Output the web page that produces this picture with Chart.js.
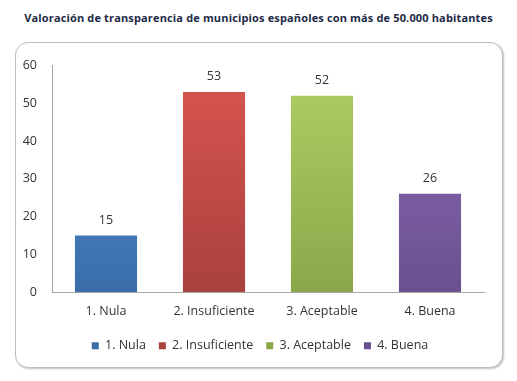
<!DOCTYPE html>
<html>
<head>
<meta charset="utf-8">
<script src="https://cdn.jsdelivr.net/npm/chart.js@4"></script>
<style>
  body { margin: 0; background: #fff; }
  #title {
    position: absolute; left: 0; top: 10px; width: 517px; text-align: center;
    font: bold 11px "Open Sans", sans-serif; color: #1e2a46; letter-spacing: 0.15px;
  }
  #box {
    position: absolute; left: 15px; top: 42px; width: 486px; height: 324px;
    border: 1px solid #bdbdbd; border-radius: 13px;
    box-shadow: 1px 1px 2px rgba(0,0,0,0.25); background: #fff;
  }
  #wrap { position: absolute; left: 0; top: 0; width: 486px; height: 324px; }
</style>
</head>
<body>
<div id="title">Valoración de transparencia de municipios españoles con más de 50.000 habitantes</div>
<div id="box"><div id="wrap"><canvas id="transChart"></canvas></div></div>
<script>
var ctx = document.getElementById('transChart').getContext('2d');

var categories = ['1. Nula', '2. Insuficiente', '3. Aceptable', '4. Buena']
var values = [15, 53, 52, 26]
var yTicks = [0, 10, 20, 30, 40, 50, 60]
var topColors = ['#4c93d8', '#db5550', '#b0d064', '#8e6db9']
var bottomColors = ['#3a6ea9', '#a9413d', '#8aa84a', '#6a508f']

function barGradient(i) {
    return function(c) {
        var area = c.chart.chartArea
        if (!area) return topColors[i]
        var g = c.chart.ctx.createLinearGradient(0, area.top, 0, area.bottom)
        g.addColorStop(0, topColors[i])
        g.addColorStop(1, bottomColors[i])
        return g
    }
}

// one dataset per category so the legend shows each one
var datasets = []
for (i = 0; i < categories.length; i++) {
    var d = categories.map(function() { return null })
    d[i] = values[i]
    datasets.push({
        label: categories[i],
        data: d,
        backgroundColor: barGradient(i),
        grouped: false,
        barPercentage: 0.575,
        categoryPercentage: 1
    })
}

var valueLabels = {
    id: 'valueLabels',
    afterDatasetsDraw: function(chart) {
        var c = chart.ctx
        c.save()
        c.font = '12.5px "Open Sans", sans-serif'
        c.fillStyle = '#333'
        c.textAlign = 'center'
        c.textBaseline = 'middle'
        chart.data.datasets.forEach(function(ds, di) {
            chart.getDatasetMeta(di).data.forEach(function(bar, idx) {
                if (ds.data[idx] == null) return
                c.fillText(ds.data[idx], bar.x, bar.y - 15)
            })
        })
        c.restore()
    }
}

// nudge the legend a bit right, like the original
var legendShift = {
    id: 'legendShift',
    afterLayout: function(chart) {
        chart.legend.left += 20
    }
}

Chart.defaults.font.family = '"Open Sans", sans-serif'
Chart.defaults.font.size = 12.5
Chart.defaults.color = '#333'

var chart = new Chart(ctx, {
    type: 'bar',
    data: { labels: categories, datasets: datasets },
    options: {
        responsive: true,
        maintainAspectRatio: false,
        animation: false,
        layout: { padding: { left: 0, right: 18, top: 7.5, bottom: 5 } },
        scales: {
            x: {
                afterFit: function(s) { s.height = 34.5 },
                grid: { display: false, drawTicks: false },
                border: { color: '#a6a6a6' },
                ticks: { padding: 12.25, color: '#333' }
            },
            y: {
                min: 0, max: 60,
                afterBuildTicks: function(s) { s.ticks = yTicks.map(function(v) { return { value: v } }) },
                afterFit: function(s) { s.width = 36 },
                grid: { display: false, drawTicks: false },
                border: { color: '#a6a6a6' },
                ticks: { padding: 15, color: '#333' }
            }
        },
        plugins: {
            legend: {
                position: 'bottom',
                labels: { boxWidth: 7, boxHeight: 7, padding: 13, color: '#333' }
            },
            tooltip: { enabled: false }
        }
    },
    plugins: [valueLabels, legendShift]
})
</script>
</body>
</html>
